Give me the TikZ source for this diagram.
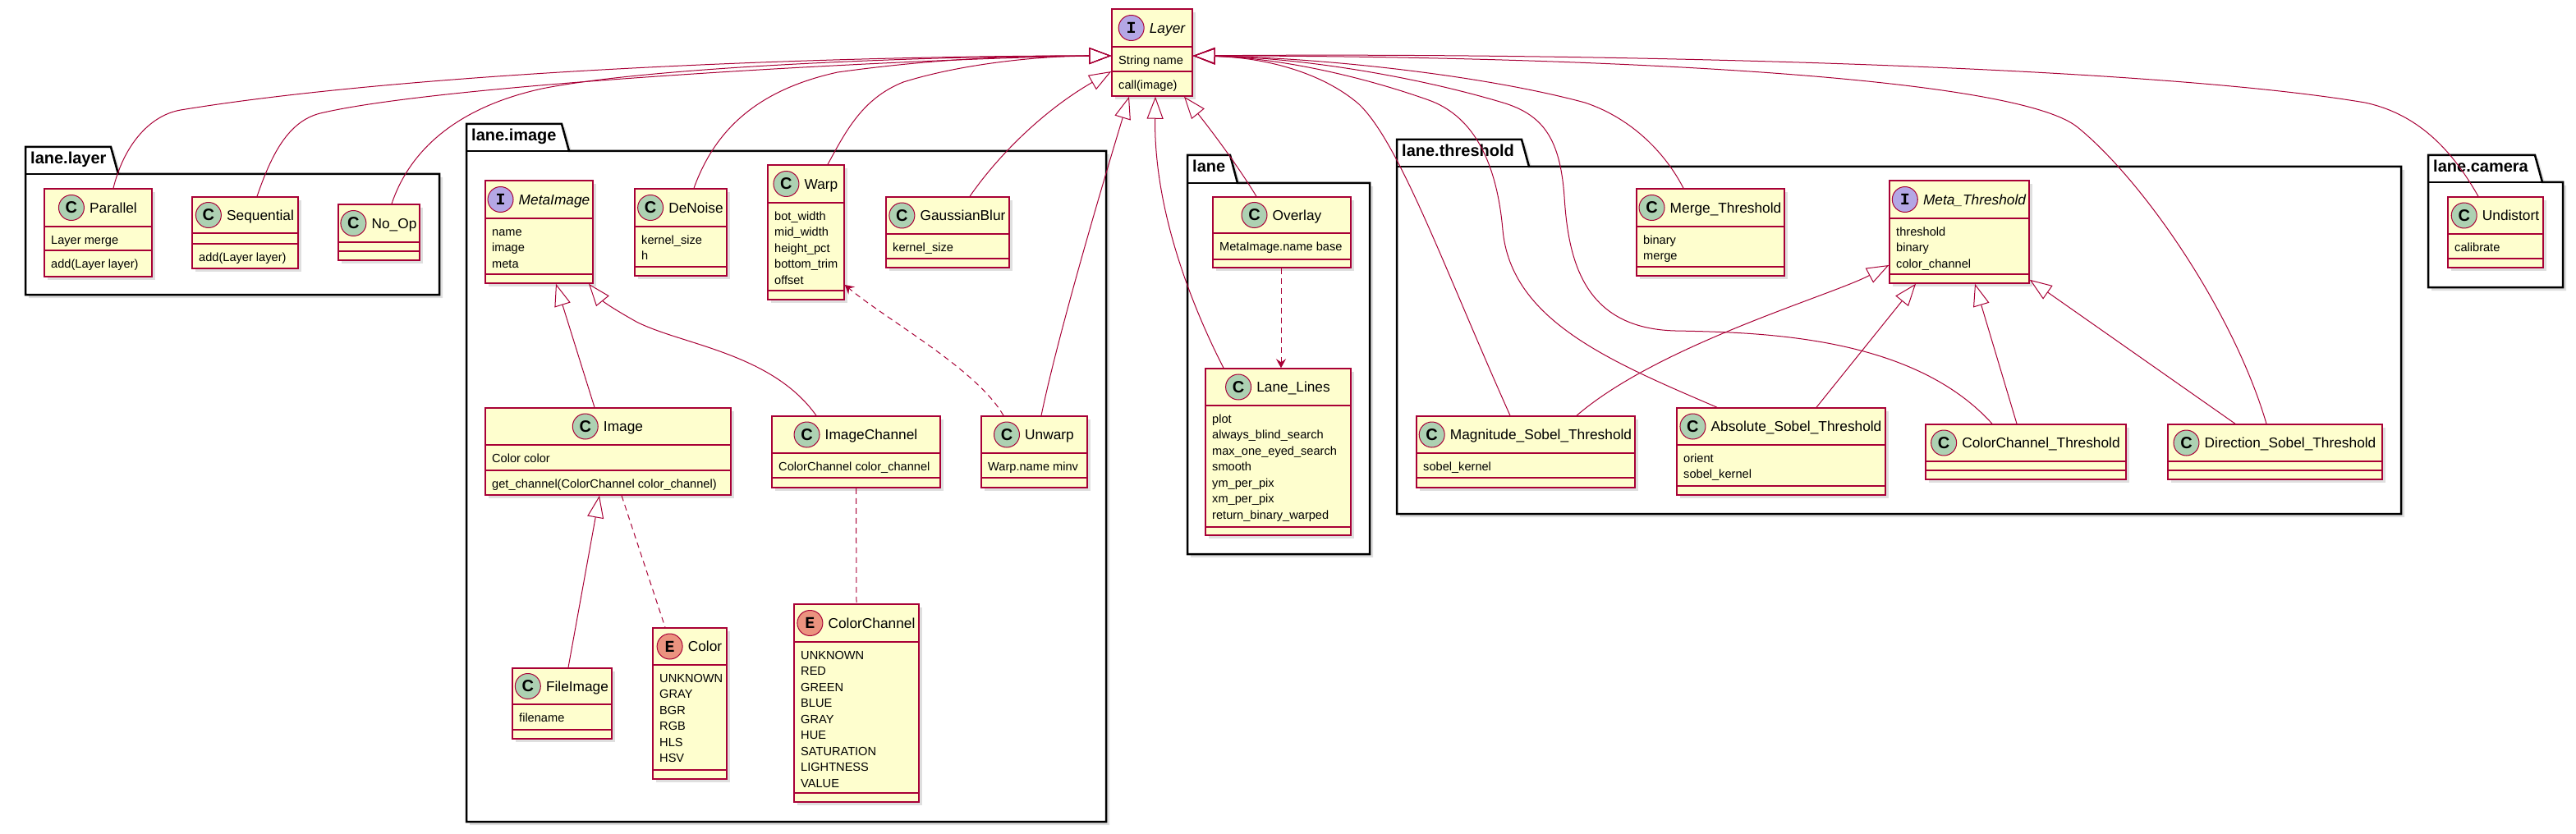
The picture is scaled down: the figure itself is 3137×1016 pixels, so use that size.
\documentclass[tikz,border=0pt]{standalone}
\usepackage{fontspec}
\setmainfont{Liberation Sans}
\newfontfamily\badgefont{Liberation Mono}
\usepackage{tikz}
\usetikzlibrary{arrows.meta}
\usetikzlibrary{positioning}
\usetikzlibrary{shadows}

\definecolor{umlred}{HTML}{A80036}
\definecolor{umlfill}{HTML}{FEFECE}
\definecolor{cgreen}{HTML}{ADD1B2}
\definecolor{ipurple}{HTML}{B4A7E5}
\definecolor{ered}{HTML}{EB937F}

\newcommand{\mstrut}{\rule{0pt}{14pt}}
% class box: name, left, top, right, bottom, end of header, end of attributes
\newcommand{\umlclass}[7]{%
  \node[classbox, minimum width={(#4-#2)*1pt}, minimum height={(#5-#3)*1pt}] (#1) at ({(#2+#4)/2},{(#3+#5)/2}) {};
  \draw[classline] (#2,#6) -- (#4,#6) (#2,#7) -- (#4,#7);
  \coordinate (#1-h) at ({(#2+#4)/2},{(#3+#6)/2});
  \coordinate (#1-a) at ({#2+8},{#6+7});
  \coordinate (#1-m) at ({#2+8},{#7+7});
}
\newcommand{\classhead}[4]{%
  \node[classname, xshift=18.5pt] (#1-name) at (#1-h) {#4};
  \node[#2, left=6pt of #1-name] (#1-badge) {#3};
}
% package: name, left, tab top, tab end, body top, right, bottom, label
\newcommand{\umlpackage}[8]{%
  \draw[pkgline, fill=white, drop shadow={opacity=.25, shadow xshift=4pt, shadow yshift=-4pt}]
    (#2,#3) -- (#4,#3) -- ({#4+9},#5) -- (#6,#5) -- (#6,#7) -- (#2,#7) -- cycle;
  \draw[pkgline] (#2,#5) -- ({#4+9},#5);
  \node[pkgname] (#1) at ({#2+6},{#3+21}) {#8};
}

\begin{document}
\begin{tikzpicture}[x=1pt, y=-1pt,
  classbox/.style={draw=umlred, fill=umlfill, line width=1.5pt, inner sep=0pt,
    drop shadow={opacity=.25, shadow xshift=4pt, shadow yshift=-4pt}},
  classline/.style={draw=umlred, line width=1.5pt},
  classname/.style={inner sep=0pt, text height=12.4pt, text depth=0pt, font=\fontsize{17.3}{20}\selectfont},
  badge/.style={circle, draw=umlred, line width=1pt, minimum size=31pt, inner sep=0pt},
  cbadge/.style={badge, fill=cgreen, font=\fontsize{20}{20}\selectfont\bfseries},
  ibadge/.style={badge, fill=ipurple, font=\fontsize{20}{20}\badgefont\bfseries},
  ebadge/.style={badge, fill=ered, font=\fontsize{20}{20}\badgefont\bfseries},
  memb/.style={anchor=north west, inner sep=0pt, align=left, font=\fontsize{14.6}{19.5}\selectfont},
  pkgline/.style={draw=black, line width=2.5pt},
  pkgname/.style={anchor=base west, inner sep=0pt, font=\fontsize{20}{24}\selectfont\bfseries},
  link/.style={draw=umlred, line width=1pt},
  isa/.style={link, -{Triangle[open, length=27pt, width=20pt]}},
  uses/.style={link, dash pattern=on 7pt off 5pt, -{Stealth[length=11pt, width=12pt, inset=4pt]}},
  assoc/.style={link, dash pattern=on 7pt off 5pt}]
\useasboundingbox (0,0) rectangle (3137,1016);

% packages
\umlpackage{pkgLayer}{31}{179}{135}{212}{535}{359}{lane.layer}
\umlpackage{pkgImage}{568}{151}{684}{184}{1347}{1001}{lane.image}
\umlpackage{pkgLane}{1446}{189}{1498}{223}{1668}{675}{lane}
\umlpackage{pkgThreshold}{1701}{170}{1853}{203}{2924}{626}{lane.threshold}
\umlpackage{pkgCamera}{2957}{189}{3087}{222}{3121}{350}{lane.camera}

% Layer
\umlclass{Layer}{1354}{11}{1452}{117}{57}{87}
\classhead{Layer}{ibadge}{I}{\itshape Layer}
\node[memb] (Layer-attr) at (Layer-a) {\mstrut String name};
\node[memb] (Layer-meth) at (Layer-m) {\mstrut call(image)};

% lane.layer
\umlclass{Parallel}{54}{230}{185}{337}{276}{305}
\classhead{Parallel}{cbadge}{C}{Parallel}
\node[memb] (Parallel-attr) at (Parallel-a) {\mstrut Layer merge};
\node[memb] (Parallel-meth) at (Parallel-m) {\mstrut add(Layer layer)};
\umlclass{Sequential}{234}{240}{363}{327}{284}{297}
\classhead{Sequential}{cbadge}{C}{Sequential}
\node[memb] (Sequential-meth) at (Sequential-m) {\mstrut add(Layer layer)};
\umlclass{NoOp}{412}{249}{511}{317}{295}{306}
\classhead{NoOp}{cbadge}{C}{No\_Op}

% lane.image
\umlclass{MetaImage}{591}{220}{722}{345}{266}{334}
\classhead{MetaImage}{ibadge}{I}{\itshape MetaImage}
\node[memb] (MetaImage-attr) at (MetaImage-a) {\mstrut name\\image\\meta};
\umlclass{DeNoise}{773}{230}{885}{336}{276}{325}
\classhead{DeNoise}{cbadge}{C}{DeNoise}
\node[memb] (DeNoise-attr) at (DeNoise-a) {\mstrut kernel\_size\\h};
\umlclass{Warp}{935}{201}{1028}{365}{247}{354}
\classhead{Warp}{cbadge}{C}{Warp}
\node[memb] (Warp-attr) at (Warp-a) {\mstrut bot\_width\\mid\_width\\height\_pct\\bottom\_trim\\offset};
\umlclass{GaussianBlur}{1079}{240}{1229}{326}{285}{315}
\classhead{GaussianBlur}{cbadge}{C}{GaussianBlur}
\node[memb] (GaussianBlur-attr) at (GaussianBlur-a) {\mstrut kernel\_size};
\umlclass{Image}{591}{497}{890}{603}{542}{573}
\classhead{Image}{cbadge}{C}{Image}
\node[memb] (Image-attr) at (Image-a) {\mstrut Color color};
\node[memb] (Image-meth) at (Image-m) {\mstrut get\_channel(ColorChannel color\_channel)};
\umlclass{ImageChannel}{940}{507}{1145}{594}{552}{582}
\classhead{ImageChannel}{cbadge}{C}{ImageChannel}
\node[memb] (ImageChannel-attr) at (ImageChannel-a) {\mstrut ColorChannel color\_channel};
\umlclass{Unwarp}{1195}{507}{1324}{594}{552}{582}
\classhead{Unwarp}{cbadge}{C}{Unwarp}
\node[memb] (Unwarp-attr) at (Unwarp-a) {\mstrut Warp.name minv};
\umlclass{FileImage}{624}{814}{745}{900}{858}{889}
\classhead{FileImage}{cbadge}{C}{FileImage}
\node[memb] (FileImage-attr) at (FileImage-a) {\mstrut filename};
\umlclass{Color}{795}{765}{885}{949}{810}{938}
\classhead{Color}{ebadge}{E}{Color}
\node[memb] (Color-attr) at (Color-a) {\mstrut UNKNOWN\\GRAY\\BGR\\RGB\\HLS\\HSV};
\umlclass{ColorChannel}{967}{736}{1119}{977}{782}{966}
\classhead{ColorChannel}{ebadge}{E}{ColorChannel}
\node[memb] (ColorChannel-attr) at (ColorChannel-a) {\mstrut UNKNOWN\\RED\\GREEN\\BLUE\\GRAY\\HUE\\SATURATION\\LIGHTNESS\\VALUE};

% lane
\umlclass{Overlay}{1477}{240}{1645}{326}{284}{316}
\classhead{Overlay}{cbadge}{C}{Overlay}
\node[memb] (Overlay-attr) at (Overlay-a) {\mstrut MetaImage.name base};
\umlclass{LaneLines}{1468}{449}{1645}{652}{494}{642}
\classhead{LaneLines}{cbadge}{C}{Lane\_Lines}
\node[memb] (LaneLines-attr) at (LaneLines-a) {\mstrut plot\\always\_blind\_search\\max\_one\_eyed\_search\\smooth\\ym\_per\_pix\\xm\_per\_pix\\return\_binary\_warped};

% lane.threshold
\umlclass{MergeThreshold}{1993}{230}{2173}{336}{276}{325}
\classhead{MergeThreshold}{cbadge}{C}{Merge\_Threshold}
\node[memb] (MergeThreshold-attr) at (MergeThreshold-a) {\mstrut binary\\merge};
\umlclass{MetaThreshold}{2301}{220}{2471}{345}{266}{334}
\classhead{MetaThreshold}{ibadge}{I}{\itshape Meta\_Threshold}
\node[memb] (MetaThreshold-attr) at (MetaThreshold-a) {\mstrut threshold\\binary\\color\_channel};
\umlclass{Magnitude}{1725}{507}{1991}{594}{552}{582}
\classhead{Magnitude}{cbadge}{C}{Magnitude\_Sobel\_Threshold}
\node[memb] (Magnitude-attr) at (Magnitude-a) {\mstrut sobel\_kernel};
\umlclass{Absolute}{2042}{497}{2296}{603}{542}{592}
\classhead{Absolute}{cbadge}{C}{Absolute\_Sobel\_Threshold}
\node[memb] (Absolute-attr) at (Absolute-a) {\mstrut orient\\sobel\_kernel};
\umlclass{CCThreshold}{2345}{517}{2589}{584}{562}{573}
\classhead{CCThreshold}{cbadge}{C}{ColorChannel\_Threshold}
\umlclass{DirThreshold}{2640}{517}{2901}{584}{562}{573}
\classhead{DirThreshold}{cbadge}{C}{Direction\_Sobel\_Threshold}

% lane.camera
\umlclass{Undistort}{2981}{240}{3097}{326}{285}{315}
\classhead{Undistort}{cbadge}{C}{Undistort}
\node[memb] (Undistort-attr) at (Undistort-a) {\mstrut calibrate};

% to Layer, from the left
\draw[isa] ([xshift=18.5pt]Parallel.north) .. controls (150,180) and (180,141) .. (220,134) .. controls (500,88) and (1000,68) .. ([yshift=-4pt]Layer.west);
\draw[isa] ([xshift=14.5pt]Sequential.north) .. controls (330,190) and (350,148) .. (390,138) .. controls (550,100) and (1150,70) .. ([yshift=-4pt]Layer.west);
\draw[isa] ([xshift=15.5pt]NoOp.north) .. controls (500,180) and (560,130) .. (660,108) .. controls (800,80) and (1150,68) .. ([yshift=-4pt]Layer.west);
\draw[isa] ([xshift=16pt]DeNoise.north) .. controls (870,160) and (920,110) .. (1020,88) .. controls (1150,70) and (1250,68) .. ([yshift=-4pt]Layer.west);
\draw[isa] ([xshift=26.5pt]Warp.north) .. controls (1030,160) and (1050,120) .. (1100,100) .. controls (1180,75) and (1280,68) .. ([yshift=-4pt]Layer.west);
\draw[isa] ([xshift=27pt]GaussianBlur.north) .. controls (1215,190) and (1270,135) .. ([yshift=-23pt]Layer.west);
% to Layer, from below
\draw[isa] ([xshift=8.5pt]Unwarp.north) .. controls (1290,400) and (1350,200) .. ([xshift=-28pt]Layer.south);
\draw[isa] ([xshift=-66.5pt]LaneLines.north) .. controls (1455,380) and (1405,260) .. ([xshift=4pt]Layer.south);
\draw[isa] ([xshift=-31pt]Overlay.north) .. controls (1500,190) and (1460,140) .. ([xshift=39pt]Layer.south);
% to Layer, from the right
\draw[isa] ([xshift=-19pt]Magnitude.north) .. controls (1760,330) and (1705,175) .. (1655,127) .. controls (1610,88) and (1540,70) .. ([yshift=-4pt]Layer.east);
\draw[isa] ([xshift=-78pt]Absolute.north) .. controls (1960,440) and (1840,390) .. (1830,280) .. controls (1822,190) and (1790,140) .. (1740,122) .. controls (1650,90) and (1550,70) .. ([yshift=-4pt]Layer.east);
\draw[isa] ([xshift=-41pt]CCThreshold.north) .. controls (2330,410) and (2150,405) .. (2040,403) .. controls (1930,400) and (1910,320) .. (1905,240) .. controls (1900,170) and (1880,140) .. (1830,125) .. controls (1720,92) and (1580,70) .. ([yshift=-4pt]Layer.east);
\draw[isa] ([xshift=-33pt]MergeThreshold.north) .. controls (2030,190) and (1990,145) .. (1930,125) .. controls (1800,90) and (1600,70) .. ([yshift=-4pt]Layer.east);
\draw[isa] ([xshift=-10.5pt]DirThreshold.north) .. controls (2720,380) and (2610,220) .. (2530,155) .. controls (2450,90) and (1900,68) .. ([yshift=-4pt]Layer.east);
\draw[isa] ([xshift=-21pt]Undistort.north) .. controls (2990,190) and (2950,140) .. (2880,125) .. controls (2600,78) and (1900,64) .. ([yshift=-4pt]Layer.east);

% inside lane.image
\draw[isa] ([xshift=-16.5pt]Image.north) -- ([xshift=20.5pt]MetaImage.south);
\draw[isa] ([xshift=-48.5pt]ImageChannel.north) .. controls (940,430) and (830,420) .. (775,392) .. controls (750,378) and (735,368) .. ([xshift=60.5pt]MetaImage.south);
\draw[isa] ([xshift=7.5pt]FileImage.north) -- ([xshift=-10.5pt]Image.south);
\draw[assoc] ([xshift=16.5pt]Image.south) -- ([xshift=-30pt]Color.north);
\draw[assoc] (ImageChannel.south) -- (ColorChannel.north);
\draw[uses] ([xshift=-37.5pt]Unwarp.north) .. controls (1190,450) and (1080,390) .. ([yshift=-64pt]Warp.east);

% inside lane
\draw[uses] ([xshift=-1pt]Overlay.south) -- ([xshift=3.5pt]LaneLines.north);

% inside lane.threshold
\draw[isa] ([xshift=62pt]Magnitude.north) .. controls (2020,420) and (2230,360) .. ([yshift=-40.5pt]MetaThreshold.west);
\draw[isa] ([xshift=43pt]Absolute.north) -- ([xshift=-53pt]MetaThreshold.south);
\draw[isa] ([xshift=-11pt]CCThreshold.north) -- ([xshift=19pt]MetaThreshold.south);
\draw[isa] ([xshift=-48.5pt]DirThreshold.north) -- ([yshift=5pt]MetaThreshold.south east);
\end{tikzpicture}
\end{document}
